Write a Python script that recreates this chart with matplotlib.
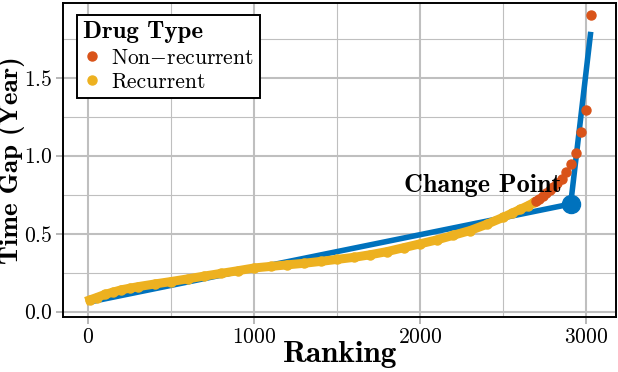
import matplotlib
matplotlib.use("Agg")
import matplotlib.pyplot as plt
from matplotlib.ticker import MultipleLocator
from matplotlib.lines import Line2D

# ranks / time gaps
rec_rank = [10, 50, 100, 150, 200, 250, 300, 400, 500, 600, 700, 800, 900, 1000,
            1100, 1200, 1300, 1400, 1500, 1600, 1700, 1800, 1900, 2000, 2100,
            2200, 2300, 2400, 2500, 2550, 2600, 2650, 2685]
rec_gap = [0.075, 0.09, 0.11, 0.125, 0.14, 0.15, 0.16, 0.177, 0.193, 0.21, 0.228,
           0.245, 0.262, 0.28, 0.29, 0.30, 0.31, 0.322, 0.335, 0.348, 0.365,
           0.385, 0.41, 0.435, 0.46, 0.49, 0.52, 0.56, 0.605, 0.63, 0.655, 0.68, 0.70]

nonrec_rank = [2697, 2715, 2739, 2760, 2781, 2800, 2823, 2852, 2880, 2910, 2940,
               2968, 2998, 3027]
nonrec_gap = [0.71, 0.725, 0.74, 0.76, 0.78, 0.80, 0.823, 0.851, 0.897, 0.947,
              1.019, 1.152, 1.293, 1.90]

fit_rank = [0, 2906, 3027]
fit_gap = [0.06, 0.69, 1.795]
change_rank = 2906
change_gap = 0.69

blue = "#0072BD"
orange = "#D95319"
yellow = "#EDB120"

plt.rcParams["font.family"] = ["cmr10", "DejaVu Serif"]
plt.rcParams["mathtext.fontset"] = "cm"
plt.rcParams["axes.formatter.use_mathtext"] = True

fig = plt.figure(figsize=(6.18, 3.72), dpi=100)
ax = fig.add_axes([0.102, 0.149, 0.895, 0.843])

ax.plot(fit_rank, fit_gap, color=blue, lw=4, solid_capstyle="butt", zorder=2)
ax.plot(rec_rank, rec_gap, "o-", color=yellow, lw=6.5, ms=6.5, zorder=3)
ax.plot(nonrec_rank, nonrec_gap, "o", color=orange, ms=6.5, zorder=4)
ax.plot([change_rank], [change_gap], "o", color=blue, ms=13, zorder=5)
ax.text(2855, 0.81, "Change Point", family="cmb10", fontsize=18.8,
        ha="right", va="center", zorder=6)

ax.set_xlim(-152, 3180)
ax.set_ylim(-0.032, 1.98)
ax.set_xticks([0, 1000, 2000, 3000])
ax.set_yticks([0, 0.5, 1.0, 1.5])
ax.xaxis.set_minor_locator(MultipleLocator(500))
ax.yaxis.set_minor_locator(MultipleLocator(0.25))
ax.tick_params(which="major", direction="out", length=5, width=1.2,
               color="#aaaaaa", labelsize=15.5, pad=2.5)
ax.tick_params(which="minor", length=0)
ax.grid(which="major", color="#bfbfbf", lw=1.5, zorder=0)
ax.grid(which="minor", color="#bfbfbf", lw=0.8, zorder=0)
ax.set_axisbelow(True)
for s in ax.spines.values():
    s.set_linewidth(1.4)
    s.set_color("black")

ax.set_xlabel("Ranking", family="cmb10", fontsize=22.5, labelpad=-4)
ax.set_ylabel("Time Gap (Year)", family="cmb10", fontsize=19.5)
ax.yaxis.set_label_coords(-0.068, 0.5)

handles = [Line2D([], [], ls="none", marker="o", ms=6.5, color=orange),
           Line2D([], [], ls="none", marker="o", ms=6.5, color=yellow)]
labels = [r"Non$-$recurrent", "Recurrent"]
leg = ax.legend(handles, labels, title="Drug Type", loc="upper left",
                bbox_to_anchor=(0.025, 0.962), borderaxespad=0,
                fontsize=15.5, fancybox=False, framealpha=1,
                edgecolor="black", handlelength=0.8, handletextpad=0.5,
                borderpad=0.3, labelspacing=0.22, alignment="left",
                title_fontproperties={"family": "cmb10", "size": 17.9})
leg.get_frame().set_linewidth(1.4)

fig.savefig("out.png", dpi=100)
